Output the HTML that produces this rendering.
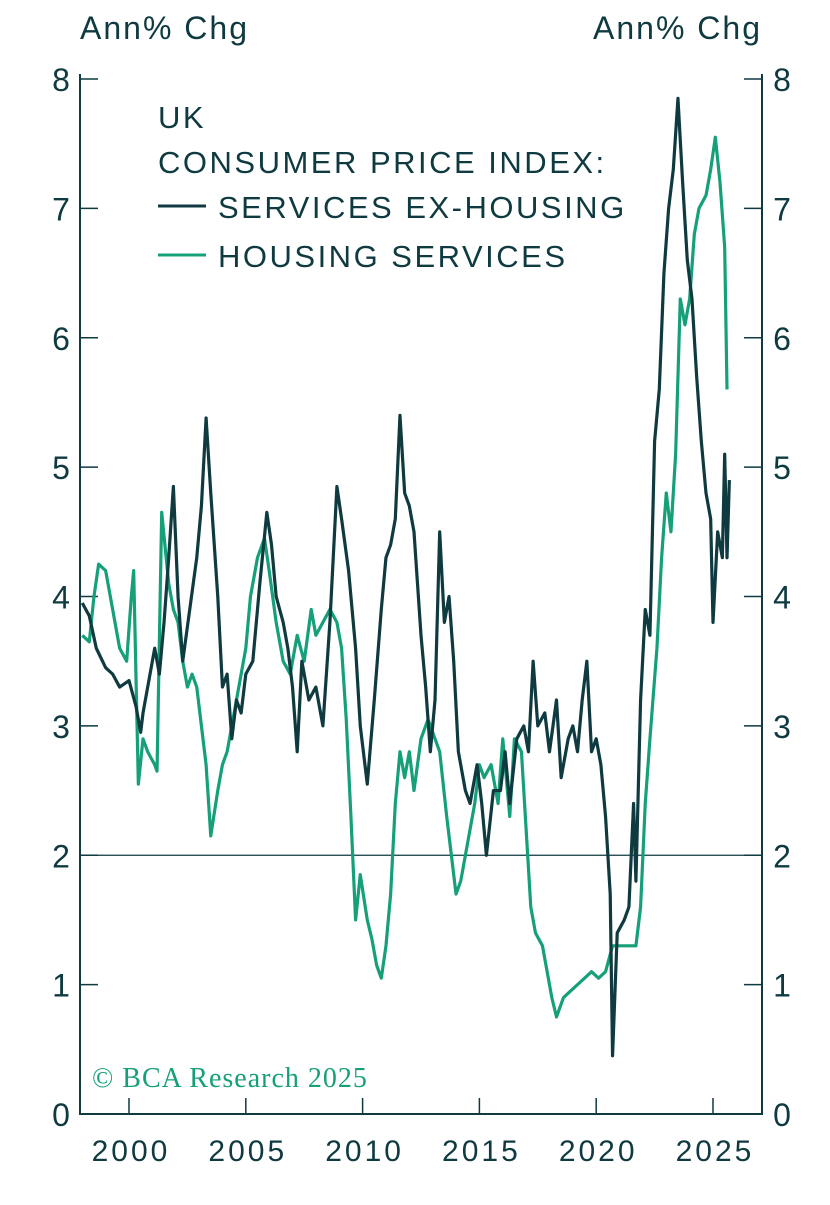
<!DOCTYPE html>
<html><head><meta charset="utf-8"><style>
body{margin:0;background:#fff;}
svg text{font-family:"Liberation Sans",sans-serif;fill:#0e3a40;}
</style></head><body>
<svg id="chart" width="830" height="1200" xmlns="http://www.w3.org/2000/svg">
<g id="axes"></g>
<g id="series"></g>
<text x="80" y="39" font-size="32" letter-spacing="2">Ann% Chg</text>
<text x="762" y="39" font-size="32" letter-spacing="2" text-anchor="end">Ann% Chg</text>
<g font-size="31" letter-spacing="2.5">
<text x="158" y="128">UK</text>
<text x="158" y="173">CONSUMER PRICE INDEX:</text>
<line x1="158" y1="206" x2="206" y2="206" stroke="#0e3a40" stroke-width="3"/>
<text x="218" y="218">SERVICES EX-HOUSING</text>
<line x1="158" y1="255" x2="206" y2="255" stroke="#16a07a" stroke-width="3"/>
<text x="218" y="267">HOUSING SERVICES</text>
</g>
<text x="92" y="1087" font-size="28" letter-spacing="1" style="font-family:'Liberation Serif',serif;fill:#16a07a">© BCA Research 2025</text>
</svg>
<script>
const yTicks=[0,1,2,3,4,5,6,7,8];
const xTickYears=[2000,2005,2010,2015,2020,2025];
const svcT=[1998.0,1998.3,1998.6,1999.0,1999.3,1999.6,2000.0,2000.3,2000.5,2000.6,2000.9,2001.1,2001.3,2001.5,2001.7,2001.9,2002.1,2002.3,2002.6,2002.9,2003.1,2003.3,2003.5,2003.8,2004.0,2004.2,2004.4,2004.6,2004.8,2005.0,2005.3,2005.6,2005.9,2006.1,2006.3,2006.6,2006.8,2007.0,2007.2,2007.4,2007.7,2008.0,2008.3,2008.6,2008.9,2009.1,2009.4,2009.7,2009.9,2010.2,2010.5,2010.8,2011.0,2011.2,2011.4,2011.6,2011.8,2012.0,2012.2,2012.5,2012.7,2012.9,2013.1,2013.3,2013.5,2013.7,2013.9,2014.1,2014.4,2014.6,2014.9,2015.1,2015.3,2015.6,2015.9,2016.1,2016.3,2016.6,2016.9,2017.1,2017.3,2017.5,2017.8,2018.0,2018.3,2018.5,2018.8,2019.0,2019.2,2019.4,2019.6,2019.8,2020.0,2020.2,2020.4,2020.6,2020.7,2020.9,2021.2,2021.4,2021.6,2021.7,2021.9,2022.1,2022.3,2022.5,2022.7,2022.9,2023.1,2023.3,2023.5,2023.7,2023.9,2024.1,2024.3,2024.5,2024.7,2024.9,2025.0,2025.2,2025.4,2025.5,2025.6,2025.7];
const svcV=[3.95,3.85,3.6,3.45,3.4,3.3,3.35,3.15,2.95,3.1,3.4,3.6,3.4,3.8,4.3,4.85,4.0,3.5,3.9,4.3,4.7,5.38,4.8,4.0,3.3,3.4,2.9,3.2,3.1,3.4,3.5,4.1,4.65,4.4,4.0,3.8,3.6,3.3,2.8,3.5,3.2,3.3,3.0,3.8,4.85,4.6,4.2,3.6,3.0,2.55,3.2,3.9,4.3,4.4,4.6,5.4,4.8,4.7,4.5,3.7,3.3,2.8,3.2,4.5,3.8,4.0,3.5,2.8,2.5,2.4,2.7,2.4,2.0,2.5,2.5,2.8,2.4,2.9,3.0,2.8,3.5,3.0,3.1,2.8,3.2,2.6,2.9,3.0,2.8,3.2,3.5,2.8,2.9,2.7,2.3,1.7,0.45,1.4,1.5,1.6,2.4,1.8,3.2,3.9,3.7,5.2,5.6,6.5,7.0,7.3,7.85,7.2,6.6,6.3,5.7,5.2,4.8,4.6,3.8,4.5,4.3,5.1,4.3,4.9];
const houT=[1998.0,1998.3,1998.5,1998.7,1999.0,1999.3,1999.6,1999.9,2000.1,2000.2,2000.4,2000.6,2000.8,2001.1,2001.2,2001.4,2001.7,2001.9,2002.1,2002.3,2002.5,2002.7,2002.9,2003.1,2003.3,2003.5,2003.8,2004.0,2004.2,2004.4,2004.7,2005.0,2005.2,2005.5,2005.8,2006.0,2006.3,2006.6,2006.9,2007.2,2007.5,2007.8,2008.0,2008.3,2008.6,2008.9,2009.1,2009.3,2009.5,2009.7,2009.9,2010.2,2010.4,2010.6,2010.8,2011.0,2011.2,2011.4,2011.6,2011.8,2012.0,2012.2,2012.5,2012.8,2013.1,2013.3,2013.6,2013.8,2014.0,2014.2,2014.5,2014.8,2015.0,2015.2,2015.5,2015.8,2016.0,2016.3,2016.5,2016.8,2017.0,2017.2,2017.4,2017.7,2017.9,2018.1,2018.3,2018.6,2018.9,2019.2,2019.5,2019.8,2020.1,2020.4,2020.7,2020.9,2021.2,2021.5,2021.7,2021.9,2022.1,2022.3,2022.6,2022.8,2023.0,2023.2,2023.4,2023.6,2023.8,2024.0,2024.2,2024.4,2024.7,2024.9,2025.1,2025.3,2025.5,2025.6];
const houV=[3.7,3.65,4.0,4.25,4.2,3.9,3.6,3.5,4.0,4.2,2.55,2.9,2.8,2.7,2.65,4.65,4.1,3.9,3.8,3.5,3.3,3.4,3.3,3.0,2.7,2.15,2.5,2.7,2.8,3.0,3.3,3.6,4.0,4.3,4.45,4.2,3.8,3.5,3.4,3.7,3.5,3.9,3.7,3.8,3.9,3.8,3.6,3.05,2.3,1.5,1.85,1.5,1.35,1.15,1.05,1.3,1.7,2.4,2.8,2.6,2.8,2.5,2.9,3.05,2.9,2.8,2.3,2.0,1.7,1.8,2.1,2.4,2.7,2.6,2.7,2.4,2.9,2.3,2.9,2.8,2.2,1.6,1.4,1.3,1.1,0.9,0.75,0.9,0.95,1.0,1.05,1.1,1.05,1.1,1.3,1.3,1.3,1.3,1.3,1.6,2.4,2.9,3.6,4.3,4.8,4.5,5.1,6.3,6.1,6.3,6.8,7.0,7.1,7.3,7.55,7.2,6.7,5.6];
const L=80,R=762,B=1114,T=79;
const xS=yr=>129+(yr-2000)*23.36;
const yS=v=>B-v*(B-T)/8;
const NS='http://www.w3.org/2000/svg';
function mk(tag,attrs,parent){const e=document.createElementNS(NS,tag);for(const k in attrs)e.setAttribute(k,attrs[k]);parent.appendChild(e);return e;}
const ax=document.getElementById('axes');
yTicks.forEach(v=>{
  const y=yS(v);
  let t=mk('line',{x1:L,y1:y,x2:L+18,y2:y,stroke:'#0e3a40','stroke-width':1.5},ax);
  
  
  t=mk('line',{x1:R-18,y1:y,x2:R,y2:y,stroke:'#0e3a40','stroke-width':1.5},ax);
  
  
  let l=mk('text',{x:61,y:y+12,'font-size':32,'text-anchor':'middle'},ax);l.textContent=v;
  
  
  l=mk('text',{x:782,y:y+12,'font-size':32,'text-anchor':'middle'},ax);l.textContent=v;
  
  
});
xTickYears.forEach(yr=>{
  const x=xS(yr);
  const t=mk('line',{x1:x,y1:B-16,x2:x,y2:B,stroke:'#0e3a40','stroke-width':1.5},ax);
  
  
  const l=mk('text',{x:x+2,y:1161,'font-size':30,'letter-spacing':3,'text-anchor':'middle'},ax);l.textContent=yr;
  
  
});
let ref=mk('line',{x1:L,y1:yS(2),x2:R,y2:yS(2),stroke:'#0e3a40','stroke-width':1.3},ax);


let fr=mk('polyline',{points:`${L},${T-5} ${L},${B} ${R},${B} ${R},${T-5}`,fill:'none',stroke:'#0e3a40','stroke-width':2},ax);


const sg=document.getElementById('series');
let p1=mk('polyline',{points:houT.map((t,i)=>xS(t)+','+yS(houV[i])).join(' '),fill:'none',stroke:'#16a07a','stroke-width':3.2,'stroke-linejoin':'round'},sg);


let p2=mk('polyline',{points:svcT.map((t,i)=>xS(t)+','+yS(svcV[i])).join(' '),fill:'none',stroke:'#0e3a40','stroke-width':3.2,'stroke-linejoin':'round'},sg);


</script>
</body></html>
